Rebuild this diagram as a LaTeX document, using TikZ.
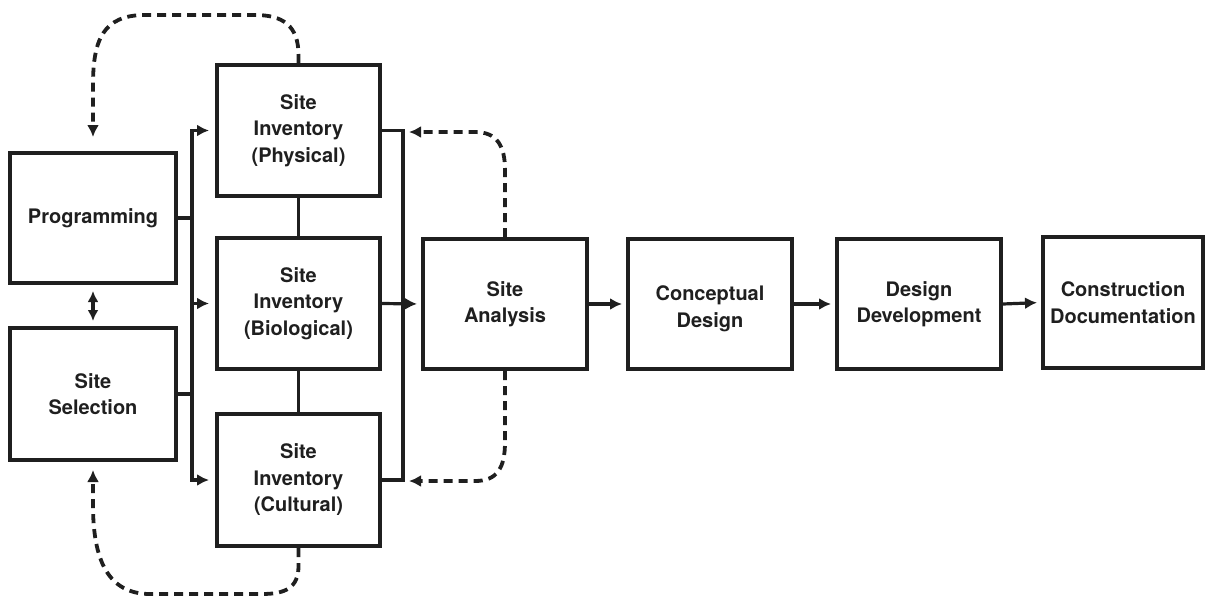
\documentclass[tikz,border=0pt]{standalone}
\usepackage{fontspec}
\setmainfont{TeX Gyre Heros}
\usetikzlibrary{arrows.meta,calc}
\begin{document}
\begin{tikzpicture}[x=1pt,y=-1pt,
  boxfont/.style={font=\bfseries\fontsize{20}{26.5}\selectfont,text=black!88,align=center},
  box/.style={draw=black!88,line width=4pt,minimum width=164pt,minimum height=130pt,
    inner sep=0pt,boxfont},
  conn/.style={draw=black!88,line width=3.2pt},
  tip/.style={-{Latex[length=12pt,width=12pt]}},
  arr/.style={conn,tip,shorten >=5pt},
  dashline/.style={draw=black!88,line width=3.8pt,dash pattern=on 9pt off 6pt,tip}]
\useasboundingbox (0,0) rectangle (1205,597);
% nodes
\node[box,minimum width=166pt] (prog) at (93,218) {Programming};
\node[box,minimum width=166pt,minimum height=132pt] (sel) at (93,394) {Site\\Selection};
\node[box,minimum width=163pt,minimum height=131pt] (phys) at (298.5,130.5) {Site\\Inventory\\(Physical)};
\node[box,minimum width=163pt,minimum height=131pt] (bio) at (298.5,303.5) {Site\\Inventory\\(Biological)};
\node[box,minimum width=163pt,minimum height=132pt] (cult) at (298.5,480) {Site\\Inventory\\(Cultural)};
\node[box] (ana) at (505,304) {Site\\Analysis};
\node[box] (conc) at (710,304) {};
\node[boxfont] (conctext) at ($(conc.center)+(0,5)$) {Conceptual\\Design};
\node[box] (dev) at (919,304) {Design\\Development};
\node[box,minimum width=160pt,minimum height=131pt] (doc) at (1123,302.5) {Construction\\Documentation};
% bus coordinates
\coordinate (lb) at (192,0);
\coordinate (fbT) at (409,132);
\coordinate (fbB) at (409,481);
% left bus
\draw[conn] (prog.east) -- (prog.east -| lb) -- (sel.east -| lb) -- (sel.east);
\draw[arr,shorten >=6pt] (prog.east -| lb) |- (phys.west);
\draw[arr,shorten >=6pt] (sel.east -| lb) |- (cult.west);
\draw[arr,shorten >=6pt] (bio.west -| lb) -- (bio.west);
% inventory links
\draw[conn] (phys.south) -- (bio.north);
\draw[conn] (bio.south) -- (cult.north);
% right bus
\draw[conn] (phys.east) -- ++(21,0) |- (cult.east);
\draw[arr,shorten >=4pt] (bio.east) -- (ana.west);
% main chain
\draw[arr,shorten >=4pt] (ana.east) -- (conc.west);
\draw[arr,shorten >=4pt] (conc.east) -- (dev.west);
\draw[arr,shorten >=4pt] (dev.east) -- (doc.west);
% double arrow
\draw[conn,{Latex[length=11pt,width=11pt]}-{Latex[length=11pt,width=11pt]},shorten <=6pt,shorten >=5pt] (prog.south) -- (sel.north);
% dashed feedback loops
\draw[dashline,shorten >=14pt] (phys.north) -- (298.5,55) .. controls (298.5,25) and (282,15) .. (255,15)
  -- (145,15) .. controls (103,15) and (93,40) .. (93,85) -- (prog.north);
\draw[dashline,shorten >=8pt] (cult.south) -- (298.5,566) .. controls (298.5,588) and (285,594) .. (262,594)
  -- (150,594) .. controls (108,594) and (93,560) .. (93,505) -- (sel.south);
\draw[dashline] (ana.north) -- (505,170) .. controls (505,146) and (497,132) .. (475,132) -- (fbT);
\draw[dashline] (ana.south) -- (505,442) .. controls (505,468) and (497,481) .. (475,481) -- (fbB);
\end{tikzpicture}
\end{document}
